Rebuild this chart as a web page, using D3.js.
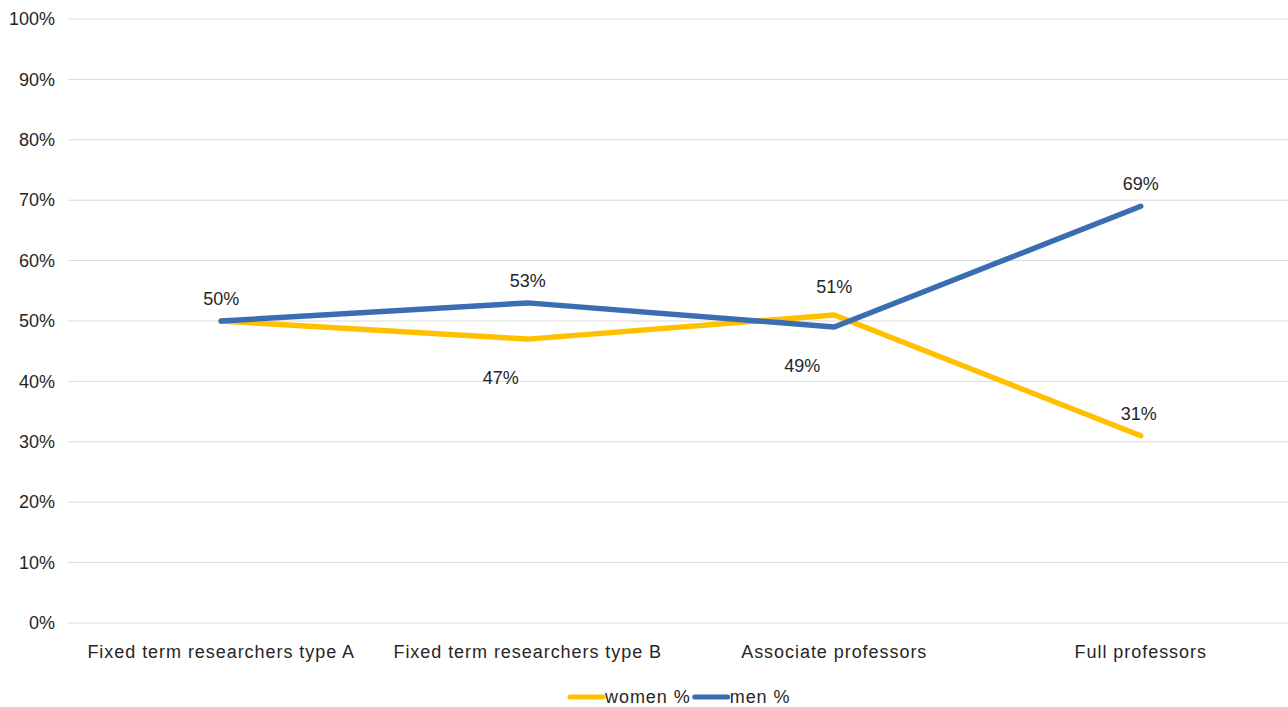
<!DOCTYPE html>
<html>
<head>
<meta charset="utf-8">
<script src="https://cdn.jsdelivr.net/npm/d3@7"></script>
<style>
  body { margin: 0; background: #fff; }
  svg text { font-family: "Liberation Sans", Arial, sans-serif; fill: #262626; }
</style>
</head>
<body>
<svg id="chart" width="1288" height="707"></svg>
<script>
// categories and values
const categories = [
    "Fixed term researchers type A",
    "Fixed term researchers type B",
    "Associate professors",
    "Full professors"
];
const women = [50, 47, 51, 31];
const men = [50, 53, 49, 69];
const yTicks = [0, 10, 20, 30, 40, 50, 60, 70, 80, 90, 100];

const series = [
    { name: "women %", values: women, color: "#ffc000" },
    { name: "men %", values: men, color: "#3b6db3" }
];

// label placement: which labels go where (style only)
const labelPlacement = {
    "women %": [null, { dy: 45, dx: -27 }, { dy: -22, dx: 0 }, { dy: -16, dx: -2 }],
    "men %": [{ dy: -16, dx: 0 }, { dy: -16, dx: 0 }, { dy: 45, dx: -32 }, { dy: -16, dx: 0 }]
};

const svg = d3.select("#chart");
const margin = { top: 19, left: 68, right: -6, bottom: 84 };
const W = 1288, H = 707;

const x = d3.scaleBand()
    .domain(categories)
    .range([margin.left, W - margin.right])
    .paddingInner(0).paddingOuter(0);

const y = d3.scaleLinear()
    .domain([0, 100])
    .range([H - margin.bottom, margin.top]);

// grid lines
svg.append("g")
    .selectAll("line")
    .data(yTicks)
    .join("line")
    .attr("x1", margin.left)
    .attr("x2", W)
    .attr("y1", d => y(d))
    .attr("y2", d => y(d))
    .attr("stroke", "#d9d9d9")
    .attr("stroke-width", 1);

// y axis
const yAxis = svg.append("g")
    .attr("transform", `translate(${margin.left},0)`)
    .call(d3.axisLeft(y).tickValues(yTicks).tickFormat(d => d + "%").tickSize(0).tickPadding(13));
yAxis.select(".domain").remove();
yAxis.selectAll("text")
    .attr("font-size", "18px")
    .attr("font-family", "Liberation Sans, Arial, sans-serif")
    .attr("fill", "#262626");

// x axis
const xAxis = svg.append("g")
    .attr("transform", `translate(0,${y(0)})`)
    .call(d3.axisBottom(x).tickSize(0).tickPadding(22));
xAxis.select(".domain").remove();
xAxis.selectAll("text")
    .attr("font-size", "18px")
    .attr("letter-spacing", "0.95px")
    .attr("font-family", "Liberation Sans, Arial, sans-serif")
    .attr("fill", "#262626");

const cx = c => x(c) + x.bandwidth() / 2;

const line = d3.line()
    .x((d, i) => cx(categories[i]))
    .y(d => y(d));

series.forEach(s => {
    svg.append("path")
        .datum(s.values)
        .attr("fill", "none")
        .attr("stroke", s.color)
        .attr("stroke-width", 5.5)
        .attr("stroke-linecap", "round")
        .attr("stroke-linejoin", "round")
        .attr("d", line);
});

// data labels
series.forEach(s => {
    s.values.forEach((v, i) => {
        const p = labelPlacement[s.name][i];
        if (!p) return;
        svg.append("text")
            .attr("x", cx(categories[i]) + p.dx)
            .attr("y", y(v) + p.dy)
            .attr("text-anchor", "middle")
            .attr("font-size", "18px")
            .text(v + "%");
    });
});

// legend
const legend = svg.append("g").attr("transform", "translate(570,697)");
let lx = 0;
series.forEach(s => {
    legend.append("line")
        .attr("x1", lx).attr("x2", lx + 33)
        .attr("y1", 0).attr("y2", 0)
        .attr("stroke", s.color)
        .attr("stroke-width", 5)
        .attr("stroke-linecap", "round");
    const t = legend.append("text")
        .attr("x", lx + 35)
        .attr("y", 0)
        .attr("dy", "0.35em")
        .attr("font-size", "18px")
        .attr("letter-spacing", "0.95px")
        .text(s.name);
    lx += 35 + t.node().getComputedTextLength() + 4;
});
</script>
</body>
</html>
